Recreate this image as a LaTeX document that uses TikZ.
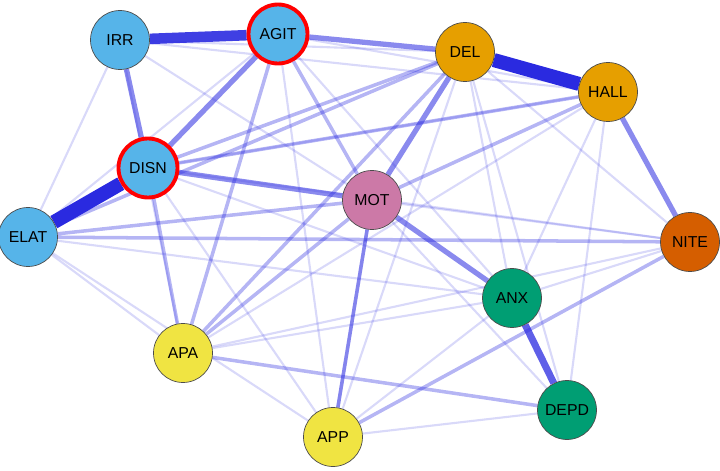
\documentclass[tikz,border=0pt]{standalone}
\usepackage{fontspec}
\setmainfont{Liberation Sans}
\usetikzlibrary{backgrounds}
\definecolor{cblue}{HTML}{56B4E9}
\definecolor{corange}{HTML}{E69F00}
\definecolor{cred}{HTML}{D55E00}
\definecolor{cpink}{HTML}{CC79A7}
\definecolor{cgreen}{HTML}{009E73}
\definecolor{cyellow}{HTML}{F0E442}
\definecolor{edgeblue}{HTML}{2A2AE0}
\tikzset{
  sym/.style={circle,draw=black!70,thin,minimum size=1.18cm,inner sep=0pt,font=\small},
  hub/.style={sym,draw=red,line width=2.2pt},
  e/.style={draw=edgeblue,opacity=#1},
}
\begin{document}
\begin{tikzpicture}[x=0.02cm,y=-0.02cm]
  \useasboundingbox (0,0) rectangle (720,470);
  \node[sym,fill=cblue]   (irr)  at (120,40)  {IRR};
  \node[hub,fill=cblue]   (agit) at (278,34)  {AGIT};
  \node[sym,fill=corange] (del)  at (465,52)  {DEL};
  \node[sym,fill=corange] (hall) at (608,92)  {HALL};
  \node[hub,fill=cblue]   (disn) at (148,168) {DISN};
  \node[sym,fill=cpink]   (mot)  at (372,200) {MOT};
  \node[sym,fill=cblue]   (elat) at (28,237)  {ELAT};
  \node[sym,fill=cred]    (nite) at (690,242) {NITE};
  \node[sym,fill=cgreen]  (anx)  at (512,298) {ANX};
  \node[sym,fill=cyellow] (apa)  at (183,353) {APA};
  \node[sym,fill=cgreen]  (depd) at (567,410) {DEPD};
  \node[sym,fill=cyellow] (app)  at (333,437) {APP};
  \begin{scope}[on background layer]
    % faint ties
    \foreach \a/\b in {irr/mot,irr/del,irr/hall,irr/elat,agit/hall,agit/anx,agit/elat,
      del/anx,del/depd,del/nite,del/app,hall/anx,hall/depd,hall/apa,disn/nite,disn/anx,
      disn/app,elat/anx,elat/apa,elat/app,mot/nite,mot/depd,nite/anx,nite/apa,apa/anx,
      app/anx,app/depd,disn/hall,irr/apa,agit/app}
      \draw[e=0.18,line width=1.2pt] (\a) -- (\b);
    % medium ties
    \foreach \a/\b in {disn/del,elat/mot,elat/del,apa/mot,app/mot,apa/disn,apa/agit,
      apa/depd,app/nite,agit/mot,del/apa,mot/app,elat/nite,mot/hall,hall/disn}
      \draw[e=0.35,line width=2pt] (\a) -- (\b);
    % strong ties
    \foreach \a/\b in {agit/del,irr/disn,agit/disn,disn/mot,hall/nite,mot/del,mot/anx}
      \draw[e=0.55,line width=3pt] (\a) -- (\b);
    \draw[e=0.75,line width=4pt] (anx) -- (depd);
    \draw[e=0.9,line width=6pt] (irr) -- (agit);
    \draw[e=1,line width=8pt] (del) -- (hall);
    \draw[e=1,line width=8pt] (disn) -- (elat);
  \end{scope}
\end{tikzpicture}
\end{document}
